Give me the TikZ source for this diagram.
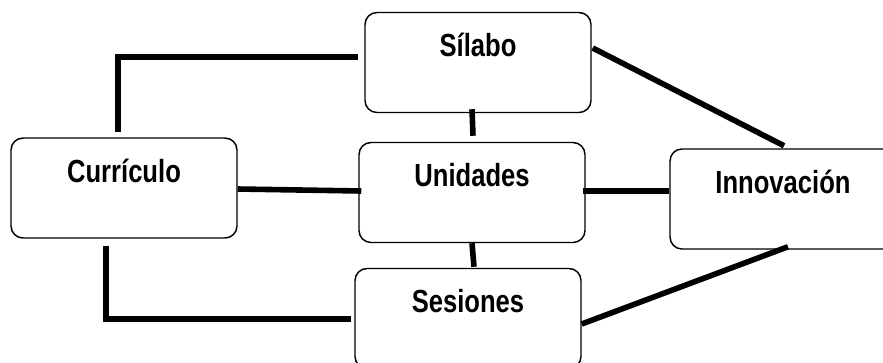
\documentclass[tikz,border=0pt]{standalone}
\usepackage{fontspec}
\setmainfont[FakeStretch=0.8]{Liberation Sans}
\tikzset{every picture/.style={line width=0.75pt}}
\tikzset{
  box/.style={draw, rounded corners=9pt, line width=1.1pt, minimum width=169.5pt,
    minimum height=75pt, inner sep=0pt, text height=33pt, text depth=42pt,
    font=\fontsize{24}{27}\selectfont\bfseries},
  link/.style={line width=4.2pt}
}

\begin{document}
\begin{tikzpicture}[x=0.75pt,y=0.75pt,yscale=-1,xscale=1]
\useasboundingbox (0,0) rectangle (883,362);

%Shape: Rounded Rect [silabo]
\node[box] (silabo) at (478,62.5) {Sílabo};
%Shape: Rounded Rect [curri]
\node[box] (curri) at (124,188) {Currículo};
%Shape: Rounded Rect [unid]
\node[box] (unid) at (472,192.5) {Unidades};
%Shape: Rounded Rect [innov]
\node[box] (innov) at (783,199) {Innovación};
%Shape: Rounded Rect [sesion]
\node[box] (sesion) at (468,318.5) {Sesiones};

%Straight Lines [silabo-curri]
\draw[link] ([shift={(-6,-5.5)}]silabo.west) -| ([shift={(-6,-5)}]curri.north);
%Straight Lines [curri-unid]
\draw[link] ([shift={(0,1)}]curri.east) -- ([shift={(3,-1.5)}]unid.west);
%Straight Lines [silabo-unid]
\draw[link] ([shift={(-6,-4)}]silabo.south) -- ([shift={(1,-6)}]unid.north);
%Straight Lines [silabo-innov]
\draw[link] ([shift={(1,-14.5)}]silabo.east) -- ([shift={(1,-2.5)}]innov.north);
%Straight Lines [unid-innov]
\draw[link] ([shift={(-3,-1.5)}]unid.east) -- ([shift={(0,-8)}]innov.west);
%Straight Lines [unid-sesion]
\draw[link] (unid.south) -- ([shift={(6,-1)}]sesion.north);
%Straight Lines [curri-sesion]
\draw[link] ([shift={(-18,7)}]curri.south) |- ([shift={(-3,0.5)}]sesion.west);
%Straight Lines [sesion-innov]
\draw[link] ([shift={(0,5.5)}]sesion.east) -- ([shift={(5,-3)}]innov.south);

\end{tikzpicture}
\end{document}
